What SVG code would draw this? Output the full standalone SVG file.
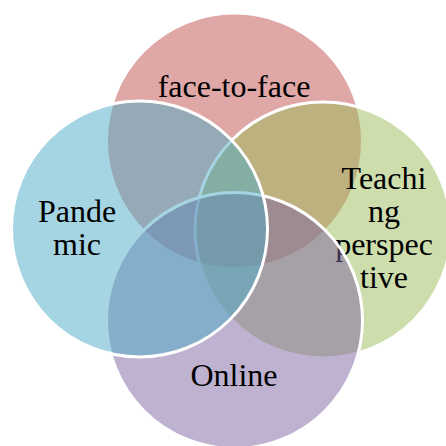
<svg xmlns="http://www.w3.org/2000/svg" width="446" height="446" viewBox="0 0 446 446">
  <style>
    .c { fill-opacity: 0.5; stroke: #ffffff; stroke-width: 3; }
    .t { font-size: 32px; fill: #000000; text-anchor: middle; }
  </style>
  <rect x="0" y="0" width="446" height="446" fill="#ffffff"/>
  <g id="face-to-face">
    <circle class="c" cx="234.5" cy="141" r="128" fill="#C0504D"/>
    <text class="t" font-family="Liberation Serif, DejaVu Serif, serif" x="234" y="97">face-to-face</text>
  </g>
  <g id="teaching-perspective">
    <circle class="c" cx="323" cy="230" r="128" fill="#9BBB59"/>
    <g font-family="Liberation Serif, DejaVu Serif, serif">
      <text class="t" x="384" y="189">Teachi</text>
      <text class="t" x="384" y="222">ng</text>
      <text class="t" x="384" y="255">perspec</text>
      <text class="t" x="384" y="288">tive</text>
    </g>
  </g>
  <g id="online">
    <circle class="c" cx="234.5" cy="320.5" r="128" fill="#8064A2"/>
    <text class="t" font-family="Liberation Serif, DejaVu Serif, serif" x="234" y="386">Online</text>
  </g>
  <g id="pandemic">
    <circle class="c" cx="139.5" cy="229" r="128" fill="#4BACC6"/>
    <g font-family="Liberation Serif, DejaVu Serif, serif">
      <text class="t" x="77" y="222">Pande</text>
      <text class="t" x="77" y="255">mic</text>
    </g>
  </g>
  <g id="connectors"></g>
</svg>
